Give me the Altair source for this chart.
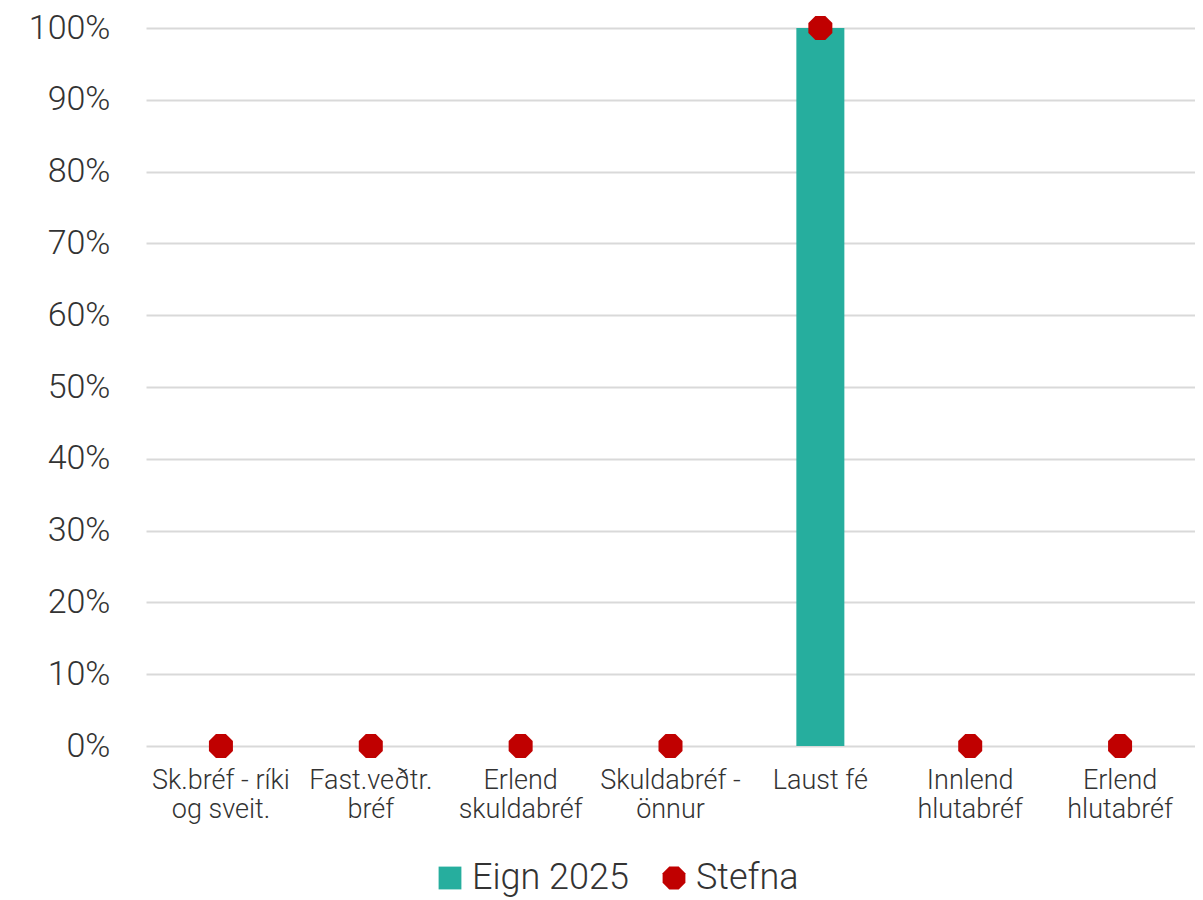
import altair as alt
import pandas as pd

categories = [
    "Sk.bréf - ríki|og sveit.",
    "Fast.veðtr.|bréf",
    "Erlend|skuldabréf",
    "Skuldabréf -|önnur",
    "Laust fé",
    "Innlend|hlutabréf",
    "Erlend|hlutabréf",
]
series_names = ["Eign 2025", "Stefna"]
eign_2025 = [0, 0, 0, 0, 100, 0, 0]
stefna = [0, 0, 0, 0, 100, 0, 0]

rows = []
for c, v in zip(categories, eign_2025):
    rows.append({"cat": c, "series": "Eign 2025", "value": v / 100})
for c, v in zip(categories, stefna):
    rows.append({"cat": c, "series": "Stefna", "value": v / 100})
df = pd.DataFrame(rows)

FONT = "Roboto"
TXT = "#333333"
TEAL = "#26AE9E"
RED = "#C00000"
OCT = "M -0.414,-1 L 0.414,-1 L 1,-0.414 L 1,0.414 L 0.414,1 L -0.414,1 L -1,0.414 L -1,-0.414 Z"

x_enc = alt.X(
    "cat:N",
    sort=categories,
    scale=alt.Scale(paddingInner=0, paddingOuter=0),
    axis=alt.Axis(
        title=None,
        labelExpr="split(datum.label, '|')",
        labelAngle=0,
        labelFontSize=27,
        labelFont=FONT,
        labelFontWeight=300,
        labelColor=TXT,
        labelLineHeight=29,
        labelPadding=21,
        ticks=False,
        domain=False,
        grid=False,
        labelLimit=200,
    ),
)
y_enc = alt.Y(
    "value:Q",
    scale=alt.Scale(domain=[0, 1], nice=False),
    axis=alt.Axis(
        title=None,
        format=".0%",
        values=[i / 10 for i in range(11)],
        labelFontSize=34,
        labelFont=FONT,
        labelFontWeight=300,
        labelColor=TXT,
        labelPadding=36,
        ticks=False,
        domain=False,
        grid=True,
        gridColor="#d9d9d9",
        gridWidth=2,
    ),
)

base = alt.Chart(df)

bars = base.transform_filter(alt.datum.series == "Eign 2025").mark_bar(
    size=48, color=TEAL
).encode(x=x_enc, y=y_enc)

legend = alt.Legend(
    title=None,
    orient="none",
    legendX=286,
    legendY=832,
    direction="horizontal",
    labelFontSize=36,
    labelFont=FONT,
    labelFontWeight=300,
    labelColor=TXT,
    symbolSize=520,
    symbolStrokeWidth=0,
    symbolOpacity=1,
    labelOffset=4,
    columnPadding=27,
)

points = base.transform_filter(alt.datum.series == "Stefna").mark_point(
    filled=True, opacity=1, size=576, strokeWidth=0
).encode(
    x=x_enc,
    y=y_enc,
    color=alt.Color("series:N", scale=alt.Scale(domain=series_names, range=[TEAL, RED]), legend=legend),
    shape=alt.Shape("series:N", scale=alt.Scale(domain=series_names, range=["square", OCT]), legend=legend),
)

chart = alt.layer(bars, points).properties(
    width=1049,
    height=718,
    autosize=alt.AutoSizeParams(type="none"),
    padding={"left": 138, "top": 20, "right": 0, "bottom": 160},
    background="white",
).configure_view(stroke=None)

chart.save("out.html", embed_options={"renderer": "svg", "actions": False})
